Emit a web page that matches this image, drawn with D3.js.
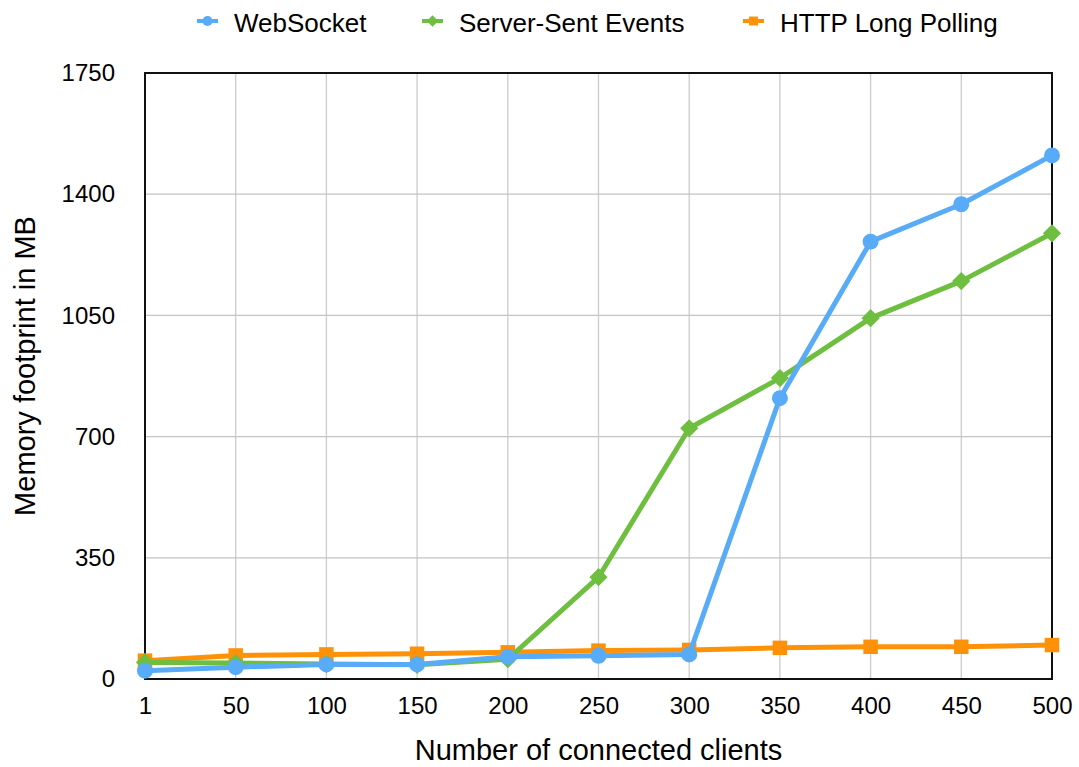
<!DOCTYPE html>
<html><head><meta charset="utf-8">
<script src="https://cdn.jsdelivr.net/npm/d3@7"></script>
<style>html,body{margin:0;padding:0;background:#fff;}svg{display:block;font-family:"Liberation Sans",Arial,Helvetica,sans-serif;}</style>
</head><body>
<svg id="chart" width="1079" height="767"></svg>
<script>
const categories = ["1","50","100","150","200","250","300","350","400","450","500"];
const webSocket = [24,34,42,42,64,67,71,811,1263,1371,1512];
const serverSent = [48,46,43,41,57,294,724,869,1042,1149,1287];
const longPolling = [53,68,71,73,77,82,84,90,93,93,98];
const yTicks = [0,350,700,1050,1400,1750];
const seriesNames = ["WebSocket","Server-Sent Events","HTTP Long Polling"];
const seriesColors = ["#57abf7","#6ebe40","#fd9208"];
const seriesShapes = ["circle","diamond","square"];
const seriesValues = [webSocket, serverSent, longPolling];

const svg = d3.select("#chart");
const L = 145, R = 1052, T = 73, B = 679;
const x = d3.scalePoint().domain(categories).range([L, R]).padding(0);
const y = d3.scaleLinear().domain([0, 1750]).range([B, T]);

// grid
svg.append("g").selectAll("line.v").data(categories).join("line")
  .attr("x1", d => x(d)).attr("x2", d => x(d)).attr("y1", T).attr("y2", B)
  .attr("stroke", "#cccccc").attr("stroke-width", 1.3);
svg.append("g").selectAll("line.h").data(yTicks).join("line")
  .attr("x1", L).attr("x2", R).attr("y1", d => y(d)).attr("y2", d => y(d))
  .attr("stroke", "#c4c4c4").attr("stroke-width", 1.3);

// axes
const xAxis = svg.append("g").attr("transform", `translate(0,${B})`)
  .call(d3.axisBottom(x).tickSize(0).tickPadding(18));
xAxis.select(".domain").remove();
xAxis.selectAll("text").attr("font-size", 24).attr("fill", "#000")
  .attr("font-family", "'Liberation Sans',Arial,sans-serif");
const yAxis = svg.append("g").attr("transform", `translate(${L},0)`)
  .call(d3.axisLeft(y).tickValues(yTicks).tickFormat(d3.format("d")).tickSize(0).tickPadding(30));
yAxis.select(".domain").remove();
yAxis.selectAll("text").attr("font-size", 24).attr("fill", "#000")
  .attr("font-family", "'Liberation Sans',Arial,sans-serif");

// frame
svg.append("rect").attr("x", L).attr("y", T).attr("width", R - L).attr("height", B - T)
  .attr("fill", "none").attr("stroke", "#111").attr("stroke-width", 2);

const symbolFor = (shape, size) => {
  const t = shape === "circle" ? d3.symbolCircle : d3.symbolSquare;
  return d3.symbol().type(t).size(size)();
};
const rot = shape => shape === "diamond" ? " rotate(45)" : "";
const sizes = {circle: 200, diamond: 165, square: 210};

const line = d3.line().x((d, i) => x(categories[i])).y(d => y(d));
const order = [2, 1, 0];
order.forEach(k => {
  const g = svg.append("g");
  g.append("path").datum(seriesValues[k]).attr("d", line)
    .attr("fill", "none").attr("stroke", seriesColors[k]).attr("stroke-width", 5)
    .attr("stroke-linejoin", "round");
  g.selectAll("path.m").data(seriesValues[k]).join("path").attr("class", "m")
    .attr("transform", (d, i) => `translate(${x(categories[i])},${y(d)})${rot(seriesShapes[k])}`)
    .attr("d", symbolFor(seriesShapes[k], sizes[seriesShapes[k]]))
    .attr("fill", seriesColors[k]);
});

// axis titles
svg.append("text").attr("x", (L + R) / 2).attr("y", 760).attr("text-anchor", "middle")
  .attr("font-size", 29).text("Number of connected clients");
svg.append("text").attr("transform", "translate(35,366) rotate(-90)").attr("text-anchor", "middle")
  .attr("font-size", 29).text("Memory footprint in MB");

// legend
const legendX = [197, 422, 743];
seriesNames.forEach((name, k) => {
  const g = svg.append("g").attr("transform", `translate(${legendX[k]},21)`);
  g.append("line").attr("x1", 0).attr("x2", 21).attr("y1", 0).attr("y2", 0)
    .attr("stroke", seriesColors[k]).attr("stroke-width", 4);
  g.append("path").attr("transform", "translate(10.5,0)" + rot(seriesShapes[k]))
    .attr("d", symbolFor(seriesShapes[k], seriesShapes[k] === "diamond" ? 65 : 80)).attr("fill", seriesColors[k]);
  g.append("text").attr("x", 37).attr("y", 11).attr("font-size", 26).text(name);
});
</script>
</body></html>
